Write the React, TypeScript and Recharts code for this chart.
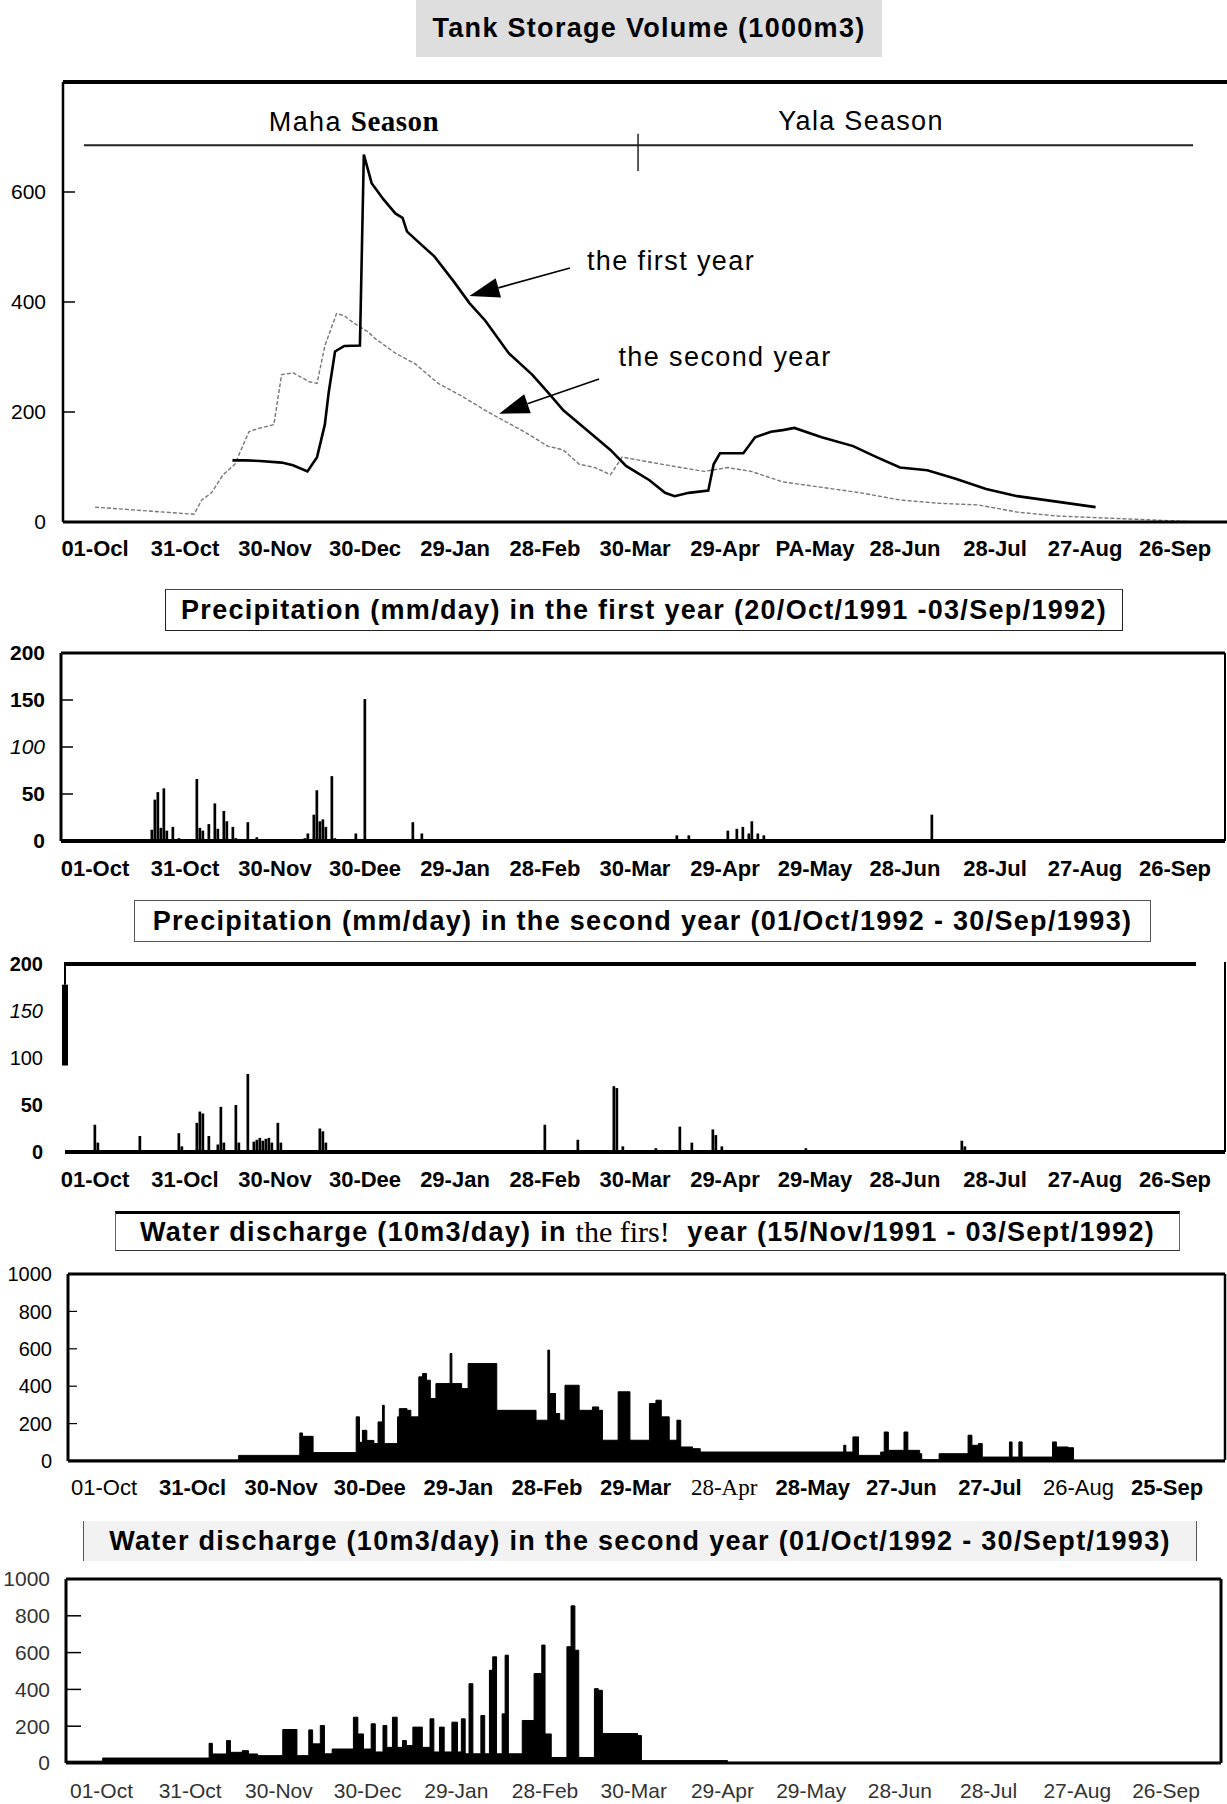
import React from "react";
import {
  ComposedChart,
  Line,
  Bar,
  Area,
  XAxis,
  YAxis,
  ReferenceLine,
} from "recharts";

const SANS = "'Liberation Sans', Arial, sans-serif";
const SERIF = "'Liberation Serif', 'Times New Roman', serif";

const DAY_TICKS = [0, 30, 60, 90, 120, 150, 180, 210, 240, 270, 300, 330, 360];

const storageLabels = ["01-Ocl", "31-Oct", "30-Nov", "30-Dec", "29-Jan", "28-Feb", "30-Mar", "29-Apr", "PA-May", "28-Jun", "28-Jul", "27-Aug", "26-Sep"];
const precip1Labels = ["01-Oct", "31-Oct", "30-Nov", "30-Dee", "29-Jan", "28-Feb", "30-Mar", "29-Apr", "29-May", "28-Jun", "28-Jul", "27-Aug", "26-Sep"];
const precip2Labels = ["01-Oct", "31-Ocl", "30-Nov", "30-Dee", "29-Jan", "28-Feb", "30-Mar", "29-Apr", "29-May", "28-Jun", "28-Jul", "27-Aug", "26-Sep"];
const discharge1Labels = ["01-Oct", "31-Ocl", "30-Nov", "30-Dee", "29-Jan", "28-Feb", "29-Mar", "28-Apr", "28-May", "27-Jun", "27-Jul", "26-Aug", "25-Sep"];
const discharge2Labels = ["01-Oct", "31-Oct", "30-Nov", "30-Dec", "29-Jan", "28-Feb", "30-Mar", "29-Apr", "29-May", "28-Jun", "28-Jul", "27-Aug", "26-Sep"];

// tank storage (1000 m3), [day since 01-Oct, volume]
const storageFirstYear = [
  [45.8, 112], [50, 112], [55, 111], [62.2, 108], [66, 103], [70.8, 92], [74, 118], [76.6, 177],
  [77.9, 236], [80, 310], [83.1, 320], [88.3, 321], [89.6, 668], [92.2, 616], [96.1, 587],
  [100.1, 561], [102.5, 553], [104, 528], [109.2, 502], [113.1, 483], [119.6, 437], [124.8, 398],
  [130.1, 366], [137.9, 307], [145.7, 268], [150.9, 236], [156.1, 203], [164, 167], [171.8, 131],
  [177, 102], [184.8, 76], [190, 53], [193.2, 47], [197.9, 53], [204.4, 57], [206.2, 105],
  [208.3, 125], [216.1, 125], [220, 154], [225.3, 164], [229.2, 167], [233.1, 171], [242.2, 154],
  [252.7, 138], [260.5, 118], [268.3, 99], [277.4, 94], [286.6, 79], [297, 60], [307.4, 47],
  [320.5, 37], [333.5, 27],
];
const storageSecondYear = [
  [0, 27], [12.7, 22], [23.1, 18], [33, 14], [35.6, 40], [38.8, 53], [42.7, 86], [46.6, 105],
  [51.3, 164], [54.4, 170], [59.6, 177], [62.2, 268], [66.1, 271], [71.4, 255], [74, 252],
  [76.6, 320], [80.5, 379], [83.1, 375], [86.2, 362], [90.9, 346], [93.5, 333], [100.1, 307],
  [106.6, 288], [114.4, 252], [122.2, 229], [130.1, 203], [135.3, 187], [143.1, 164], [150.9, 138],
  [156.1, 131], [161.4, 105], [166.6, 99], [171.8, 86], [175.7, 118], [184.8, 109], [195.3, 99],
  [203.1, 92], [210.9, 99], [218.7, 92], [229.2, 73], [242.2, 63], [255.3, 53], [268.3, 40],
  [281.3, 34], [294.4, 31], [307.4, 18], [320.5, 11], [333.5, 8], [346.6, 5], [364.8, 1],
];

// precipitation mm/day
const precipFirstYear = [
  [19, 12], [20, 44], [21, 52], [22, 14], [23, 56], [24, 11], [26, 15], [28, 3], [34, 66], [35, 14],
  [36, 11], [38, 18], [40, 40], [41, 13], [43, 32], [44, 21], [46, 15], [47, 3], [51, 20], [54, 4],
  [70, 3], [71, 8], [73, 28], [74, 54], [75, 21], [76, 23], [77, 15], [79, 69], [80, 3], [87, 8],
  [90, 151], [95, 2], [106, 20], [109, 8], [194, 6], [198, 6], [211, 11], [214, 13], [216, 15],
  [218, 8], [219, 21], [221, 8], [223, 6], [230, 2], [247, 1], [279, 28],
];
const precipSecondYear = [
  [0, 29], [1, 10], [15, 17], [28, 20], [29, 6], [34, 31], [35, 43], [36, 41], [38, 17], [41, 8],
  [42, 48], [43, 10], [47, 50], [48, 10], [51, 83], [53, 11], [54, 13], [55, 15], [56, 12], [57, 14],
  [58, 15], [59, 10], [61, 31], [62, 10], [75, 25], [76, 22], [77, 10], [150, 29], [161, 13],
  [173, 70], [174, 68], [176, 6], [187, 4], [195, 27], [199, 10], [206, 24], [207, 18], [209, 6],
  [237, 4], [289, 12], [290, 6],
];

// water discharge 10 m3/day, step values
const dischargeFirstYear = [
  [-12.2, 5], [45.6, 30], [66.3, 150], [67.2, 132], [70.8, 45], [85.4, 236], [86.5, 100], [87.5, 164],
  [89, 110], [91.4, 93], [92.8, 209], [94.3, 298], [94.9, 93], [99.4, 236], [100, 280], [102.6, 271],
  [103.9, 236], [106.6, 450], [107.9, 468], [109.2, 432], [110.5, 334], [112.4, 414], [117.2, 575],
  [117.8, 414], [121.1, 387], [123.3, 521], [133, 271], [146.3, 218], [150.3, 593], [150.9, 361],
  [152.9, 254], [154.3, 218], [156.1, 405], [160.9, 271], [165.4, 289], [167.5, 271], [168.8, 111],
  [174.1, 370], [178.1, 111], [184.7, 307], [186.9, 325], [188.7, 236], [191.4, 111], [194, 218],
  [195.3, 75], [199.3, 66], [201.9, 48], [250.5, 84], [251.2, 48], [253.6, 129], [255.5, 30],
  [263, 48], [264.2, 155], [265.6, 57], [270.9, 155], [272.2, 57], [276.2, 39], [276.9, 7],
  [282.8, 39], [292.6, 138], [293.9, 84], [296.1, 93], [297.4, 21], [306.6, 102], [307.5, 21],
  [309.8, 102], [310.9, 21], [321.2, 102], [322.5, 75], [326.5, 71], [328.3, 4], [379.6, 4],
];
const dischargeSecondYear = [
  [-12, 10], [0.4, 27], [36.4, 107], [37.5, 49], [42.3, 122], [43.6, 58], [47.6, 67], [49.7, 49],
  [52.8, 40], [61.3, 182], [66.1, 40], [70.1, 180], [71.4, 104], [74, 204], [75.4, 50], [78, 76],
  [85.2, 249], [86.7, 158], [88.6, 76], [91.2, 213], [92.6, 60], [95.2, 204], [96.5, 85], [98.4, 249],
  [100, 85], [101.8, 122], [103.1, 95], [105.3, 195], [108.5, 85], [111.1, 240], [112.4, 60],
  [114.3, 195], [115.9, 60], [118.5, 222], [120.4, 60], [121.7, 240], [123, 50], [124.3, 431],
  [125.6, 50], [128.3, 258], [129.6, 50], [131.2, 504], [132.3, 577], [133.6, 50], [135.5, 267],
  [136.5, 586], [137.6, 50], [142.3, 231], [146.3, 486], [148.9, 641], [150, 158], [152.1, 30],
  [157.4, 632], [158.8, 854], [160.1, 613], [161.4, 30], [166.7, 404], [168, 395], [169.4, 160],
  [181.3, 149], [182.6, 13], [211.7, 3], [378.6, 3],
];

const toRows = (pts: number[][]) => pts.map(([day, v]) => ({ day, v }));

type TickStyle = { family?: string; weight?: number; size?: number; italic?: boolean; fill?: string };

function DayTick(props: any) {
  const { x, y, payload, labels, base = {}, special = {} } = props;
  const i = Math.round(payload.value / 30);
  const s: TickStyle = { ...base, ...(special[i] || {}) };
  return (
    <text
      x={x}
      y={y}
      dy="0.71em"
      textAnchor="middle"
      fontFamily={s.family ?? SANS}
      fontSize={s.size ?? 22}
      fontWeight={s.weight ?? 700}
      fill={s.fill ?? "#000"}
    >
      {labels[i]}
    </text>
  );
}

function ValueTick(props: any) {
  const { x, y, payload, base = {}, special = {} } = props;
  const s: TickStyle = { ...base, ...(special[payload.value] || {}) };
  return (
    <text
      x={x}
      y={y}
      dy="0.355em"
      textAnchor="end"
      fontFamily={s.family ?? SANS}
      fontSize={s.size ?? 21}
      fontWeight={s.weight ?? 400}
      fontStyle={s.italic ? "italic" : "normal"}
      fill={s.fill ?? "#000"}
    >
      {payload.value}
    </text>
  );
}

function Arrow(props: any) {
  const { x1, y1, x2, y2 } = props;
  const ang = Math.atan2(y2 - y1, x2 - x1);
  const len = 30;
  const half = 10;
  const bx = x2 - len * Math.cos(ang);
  const by = y2 - len * Math.sin(ang);
  const px = -Math.sin(ang) * half;
  const py = Math.cos(ang) * half;
  return (
    <g>
      <line x1={x1} y1={y1} x2={bx} y2={by} stroke="#000" strokeWidth={1.6} />
      <polygon points={`${x2},${y2} ${bx + px},${by + py} ${bx - px},${by - py}`} fill="#000" />
    </g>
  );
}

function Title({ left, top, width, height, children, style }: any) {
  return (
    <div
      style={{
        position: "absolute",
        left,
        top,
        width,
        height,
        boxSizing: "border-box",
        display: "flex",
        alignItems: "center",
        justifyContent: "center",
        fontFamily: SANS,
        fontWeight: 700,
        fontSize: 27,
        letterSpacing: 1.3,
        whiteSpace: "nowrap",
        color: "#000",
        ...style,
      }}
    >
      {children}
    </div>
  );
}

function Note({ cx, cy, children, style }: any) {
  return (
    <div
      style={{
        position: "absolute",
        left: cx,
        top: cy,
        transform: "translate(-50%, -50%)",
        whiteSpace: "nowrap",
        fontFamily: SANS,
        fontSize: 27,
        letterSpacing: 1.4,
        ...style,
      }}
    >
      {children}
    </div>
  );
}

const frame = { stroke: "#000", strokeWidth: 3 };

export default function App() {
  return (
    <div style={{ position: "absolute", left: 0, top: 0, width: 1227, height: 1804, background: "#fff", overflow: "hidden" }}>
      {/* ---------- Tank storage ---------- */}
      <Title left={416} top={0} width={466} height={57} style={{ background: "#dedede" }}>
        Tank Storage Volume (1000m3)
      </Title>
      <div style={{ position: "absolute", left: 0, top: 60 }}>
        <ComposedChart width={1227} height={510} margin={{ top: 22, right: 0, bottom: 0, left: 0 }}>
          <XAxis
            type="number"
            dataKey="day"
            domain={[-10.67, 377.3]}
            ticks={DAY_TICKS}
            interval={0}
            allowDataOverflow
            height={48}
            tickLine={false}
            axisLine={frame}
            tickMargin={12}
            tick={(p: any) => <DayTick {...p} labels={storageLabels} />}
          />
          <YAxis
            type="number"
            domain={[0, 800]}
            ticks={[0, 200, 400, 600]}
            allowDataOverflow
            width={63}
            axisLine={{ stroke: "#000", strokeWidth: 2.5 }}
            tickLine={{ stroke: "#000", strokeWidth: 1.5 }}
            tickSize={-12}
            tickMargin={29}
            tick={(p: any) => <ValueTick {...p} />}
          />
          <ReferenceLine y={800} stroke="#000" strokeWidth={4} ifOverflow="visible" />
          <ReferenceLine
            segment={[{ x: -3.7, y: 685 }, { x: 366, y: 685 }]}
            stroke="#222"
            strokeWidth={2}
            ifOverflow="visible"
          />
          <ReferenceLine
            segment={[{ x: 181, y: 638 }, { x: 181, y: 706 }]}
            stroke="#222"
            strokeWidth={1.5}
            ifOverflow="visible"
          />
          <Line
            data={toRows(storageSecondYear)}
            dataKey="v"
            type="linear"
            stroke="#777"
            strokeWidth={1.4}
            strokeDasharray="4 2"
            dot={false}
            isAnimationActive={false}
          />
          <Line
            data={toRows(storageFirstYear)}
            dataKey="v"
            type="linear"
            stroke="#000"
            strokeWidth={2.6}
            dot={false}
            isAnimationActive={false}
          />
          <ReferenceLine
            segment={[{ x: 158.3, y: 462 }, { x: 124.8, y: 411 }]}
            shape={(p: any) => <Arrow {...p} />}
            ifOverflow="visible"
          />
          <ReferenceLine
            segment={[{ x: 168, y: 260 }, { x: 134.7, y: 197 }]}
            shape={(p: any) => <Arrow {...p} />}
            ifOverflow="visible"
          />
        </ComposedChart>
      </div>
      <Note cx={354} cy={121}>
        <span>Maha </span>
        <span style={{ fontFamily: SERIF, fontWeight: 700, fontSize: 29, letterSpacing: 0.5 }}>Season</span>
      </Note>
      <Note cx={861} cy={121} style={{ letterSpacing: 1.3 }}>Yala Season</Note>
      <Note cx={671} cy={261}>the first year</Note>
      <Note cx={725} cy={357}>the second year</Note>

      {/* ---------- Precipitation, first year ---------- */}
      <Title left={165} top={589} width={958} height={42} style={{ borderLeft: "1.5px solid #222", borderRight: "1.5px solid #222", borderTop: "1px solid #444", borderBottom: "1.5px solid #222" }}>
        Precipitation (mm/day) in the first year (20/Oct/1991 -03/Sep/1992)
      </Title>
      <div style={{ position: "absolute", left: 0, top: 630 }}>
        <ComposedChart width={1227} height={260} data={toRows(precipFirstYear)} margin={{ top: 23, right: 2, bottom: 0, left: 0 }}>
          <XAxis
            type="number"
            dataKey="day"
            domain={[-11.33, 376.67]}
            ticks={DAY_TICKS}
            interval={0}
            allowDataOverflow
            height={49}
            tickLine={false}
            axisLine={{ stroke: "#000", strokeWidth: 4 }}
            tickMargin={13}
            tick={(p: any) => <DayTick {...p} labels={precip1Labels} />}
          />
          <YAxis
            type="number"
            domain={[0, 200]}
            ticks={[0, 50, 100, 150, 200]}
            allowDataOverflow
            width={61}
            axisLine={frame}
            tickLine={{ stroke: "#000", strokeWidth: 1.5 }}
            tickSize={-12}
            tickMargin={28}
            tick={(p: any) => (
              <ValueTick {...p} base={{ weight: 700 }} special={{ 100: { weight: 400, italic: true } }} />
            )}
          />
          <ReferenceLine y={200} stroke="#000" strokeWidth={3} ifOverflow="visible" />
          <ReferenceLine x={376.67} stroke="#000" strokeWidth={2} ifOverflow="visible" />
          <Bar dataKey="v" fill="#000" barSize={3} isAnimationActive={false} />
        </ComposedChart>
      </div>

      {/* ---------- Precipitation, second year ---------- */}
      <Title left={134} top={900} width={1017} height={42} style={{ border: "1.5px solid #555" }}>
        Precipitation (mm/day) in the second year (01/Oct/1992 - 30/Sep/1993)
      </Title>
      <div style={{ position: "absolute", left: 0, top: 940 }}>
        <ComposedChart width={1227} height={262} data={toRows(precipSecondYear)} margin={{ top: 24, right: 2, bottom: 0, left: 0 }}>
          <XAxis
            type="number"
            dataKey="day"
            domain={[-10, 376.67]}
            ticks={DAY_TICKS}
            interval={0}
            allowDataOverflow
            height={50}
            tickLine={false}
            axisLine={{ stroke: "#000", strokeWidth: 4 }}
            tickMargin={13}
            tick={(p: any) => <DayTick {...p} labels={precip2Labels} />}
          />
          <YAxis
            type="number"
            domain={[0, 200]}
            ticks={[0, 50, 100, 150, 200]}
            allowDataOverflow
            width={65}
            axisLine={false}
            tickLine={false}
            tickSize={0}
            tickMargin={22}
            tick={(p: any) => (
              <ValueTick {...p} base={{ weight: 700, size: 20 }} special={{ 100: { weight: 400 }, 150: { weight: 400, italic: true } }} />
            )}
          />
          <ReferenceLine
            segment={[{ x: -10, y: 200 }, { x: 367, y: 200 }]}
            stroke="#000"
            strokeWidth={4}
            ifOverflow="visible"
          />
          <ReferenceLine
            segment={[{ x: -10, y: 92 }, { x: -10, y: 178 }]}
            stroke="#000"
            strokeWidth={6}
            ifOverflow="visible"
          />
          <ReferenceLine
            segment={[{ x: -10, y: 178 }, { x: -10, y: 202 }]}
            stroke="#000"
            strokeWidth={2}
            ifOverflow="visible"
          />
          <ReferenceLine
            segment={[{ x: 376.67, y: 0 }, { x: 376.67, y: 202 }]}
            stroke="#000"
            strokeWidth={2}
            ifOverflow="visible"
          />
          <Bar dataKey="v" fill="#000" barSize={3} isAnimationActive={false} />
        </ComposedChart>
      </div>

      {/* ---------- Discharge, first year ---------- */}
      <Title left={115} top={1211} width={1065} height={40} style={{ borderTop: "3px solid #000", borderBottom: "1.5px solid #333", borderLeft: "1px solid #666", borderRight: "1px solid #666" }}>
        <span>Water discharge (10m3/day) in&nbsp;</span>
        <span style={{ fontFamily: SERIF, fontWeight: 400, fontSize: 30, letterSpacing: 0 }}>the firs!</span>
        <span>&nbsp; year (15/Nov/1991 - 03/Sept/1992)</span>
      </Title>
      <div style={{ position: "absolute", left: 0, top: 1250 }}>
        <ComposedChart width={1227} height={262} data={toRows(dischargeFirstYear)} margin={{ top: 24, right: 2, bottom: 0, left: 0 }}>
          <XAxis
            type="number"
            dataKey="day"
            domain={[-12.19, 379.6]}
            ticks={DAY_TICKS}
            interval={0}
            allowDataOverflow
            height={51}
            tickLine={false}
            axisLine={{ stroke: "#000", strokeWidth: 3 }}
            tickMargin={12}
            tick={(p: any) => (
              <DayTick
                {...p}
                labels={discharge1Labels}
                special={{ 0: { weight: 400 }, 7: { family: SERIF, weight: 400, size: 23 }, 11: { weight: 400 } }}
              />
            )}
          />
          <YAxis
            type="number"
            domain={[0, 1000]}
            ticks={[0, 200, 400, 600, 800, 1000]}
            allowDataOverflow
            width={68}
            axisLine={frame}
            tickLine={{ stroke: "#000", strokeWidth: 1.2 }}
            tickSize={-9}
            tickMargin={25}
            tick={(p: any) => <ValueTick {...p} base={{ size: 20 }} />}
          />
          <ReferenceLine y={1000} stroke="#000" strokeWidth={3} ifOverflow="visible" />
          <ReferenceLine
            segment={[{ x: 379.6, y: 5 }, { x: 379.6, y: 1000 }]}
            stroke="#000"
            strokeWidth={2.5}
            ifOverflow="visible"
          />
          <Area
            dataKey="v"
            type="stepAfter"
            stroke="#000"
            strokeWidth={1}
            fill="#000"
            fillOpacity={1}
            baseValue={0}
            isAnimationActive={false}
          />
        </ComposedChart>
      </div>

      {/* ---------- Discharge, second year ---------- */}
      <Title left={83} top={1521} width={1114} height={40} style={{ background: "#f2f2f2", borderLeft: "1px solid #555", borderRight: "1px solid #555" }}>
        Water discharge (10m3/day) in the second year (01/Oct/1992 - 30/Sept/1993)
      </Title>
      <div style={{ position: "absolute", left: 0, top: 1555 }}>
        <ComposedChart width={1227} height={249} data={toRows(dischargeSecondYear)} margin={{ top: 24, right: 6, bottom: 0, left: 0 }}>
          <XAxis
            type="number"
            dataKey="day"
            domain={[-12, 378.6]}
            ticks={DAY_TICKS}
            interval={0}
            allowDataOverflow
            height={41}
            tickLine={false}
            axisLine={frame}
            tickMargin={14}
            tick={(p: any) => (
              <DayTick {...p} labels={discharge2Labels} base={{ weight: 400, size: 21, fill: "#333" }} />
            )}
          />
          <YAxis
            type="number"
            domain={[0, 1000]}
            ticks={[0, 200, 400, 600, 800, 1000]}
            allowDataOverflow
            width={66}
            axisLine={frame}
            tickLine={{ stroke: "#000", strokeWidth: 1.5 }}
            tickSize={-15}
            tickMargin={31}
            tick={(p: any) => <ValueTick {...p} base={{ size: 21, fill: "#333" }} />}
          />
          <ReferenceLine y={1000} stroke="#000" strokeWidth={3} ifOverflow="visible" />
          <ReferenceLine x={378.6} stroke="#000" strokeWidth={3} ifOverflow="visible" />
          <Area
            dataKey="v"
            type="stepAfter"
            stroke="#000"
            strokeWidth={1}
            fill="#000"
            fillOpacity={1}
            baseValue={0}
            isAnimationActive={false}
          />
        </ComposedChart>
      </div>
    </div>
  );
}
